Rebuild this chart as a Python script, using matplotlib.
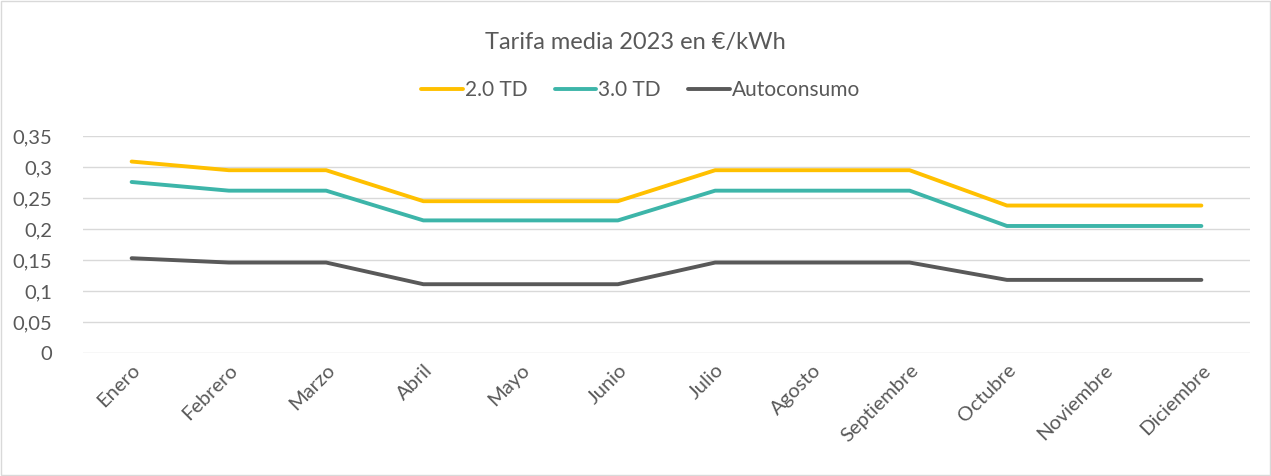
import matplotlib
matplotlib.use("Agg")
import matplotlib.pyplot as plt
from matplotlib.ticker import FuncFormatter, MultipleLocator

plt.rcParams['font.family'] = ['Lato', 'DejaVu Sans']

meses = ["Enero", "Febrero", "Marzo", "Abril", "Mayo", "Junio", "Julio",
         "Agosto", "Septiembre", "Octubre", "Noviembre", "Diciembre"]
td20 = [0.309, 0.295, 0.295, 0.245, 0.245, 0.245, 0.295, 0.295, 0.295, 0.238, 0.238, 0.238]
td30 = [0.276, 0.262, 0.262, 0.214, 0.214, 0.214, 0.262, 0.262, 0.262, 0.205, 0.205, 0.205]
auto = [0.153, 0.146, 0.146, 0.111, 0.111, 0.111, 0.146, 0.146, 0.146, 0.118, 0.118, 0.118]

grey = "#595959"
fig = plt.figure(figsize=(12.71, 4.76), dpi=100)
ax = fig.add_axes([0.0653, 0.2584, 0.9182, 0.4556])
x = range(len(meses))
ax.plot(x, td20, color="#FFC000", lw=2.8, label="2.0 TD", solid_capstyle="round")
ax.plot(x, td30, color="#3DB5A9", lw=2.8, label="3.0 TD", solid_capstyle="round")
ax.plot(x, auto, color="#595959", lw=2.8, label="Autoconsumo", solid_capstyle="round")

ax.set_xlim(-0.5, len(meses) - 0.5)
ax.set_ylim(0, 0.35)
ax.yaxis.set_major_locator(MultipleLocator(0.05))
ax.yaxis.set_major_formatter(FuncFormatter(lambda v, p: ("%g" % round(v, 2)).replace(".", ",")))
ax.grid(axis="y", color="#D9D9D9", lw=1)
ax.set_axisbelow(True)
for s in ax.spines.values():
    s.set_visible(False)
ax.tick_params(axis="both", length=0, colors=grey, labelsize=14.5)
ax.tick_params(axis="y", pad=22)
ax.set_xticks(list(x))
ax.set_xticklabels(meses, rotation=45, ha="right", rotation_mode="anchor")
ax.tick_params(axis="x", pad=6)

fig.text(0.5, 0.91, "Tarifa media 2023 en €/kWh", ha="center", va="center",
         fontsize=17, color=grey)
fig.legend(loc="center", bbox_to_anchor=(0.504, 0.81), ncol=3, frameon=False,
           fontsize=15, labelcolor=grey, handlelength=2.0, handletextpad=0.1,
           columnspacing=1.3)

fig.patches.append(plt.Rectangle((0.001, 0.002), 0.998, 0.996, transform=fig.transFigure,
                                 fill=False, edgecolor="#D9D9D9", lw=1))
fig.savefig("out.png", dpi=100)
